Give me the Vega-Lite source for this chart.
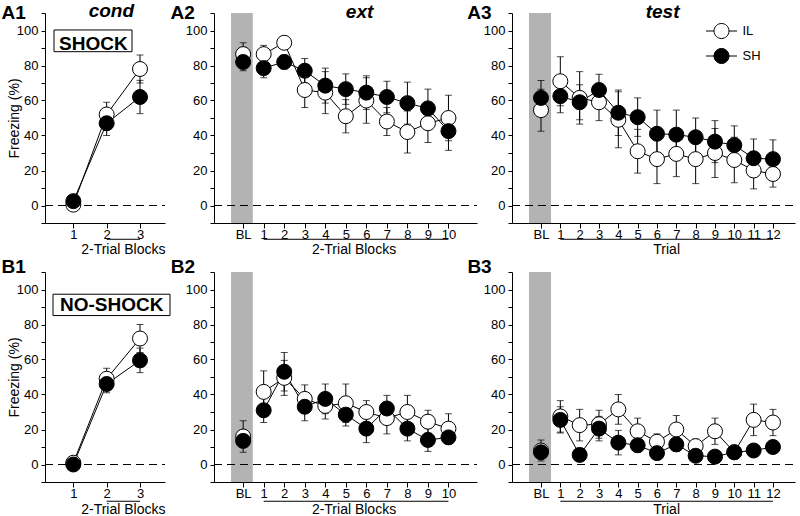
{
  "$schema": "https://vega.github.io/schema/vega-lite/v6.json",
  "background": "white",
  "padding": {"left": 1, "top": 2, "right": 0, "bottom": 0},
  "config": {
    "view": {"stroke": null},
    "font": "Liberation Sans",
    "axis": {"domainColor": "black", "domainWidth": 1, "tickColor": "black", "labelColor": "black", "titleColor": "black", "grid": false, "titleFontWeight": "normal", "labelFlush": false, "labelOverlap": false, "labelFontSize": 13},
    "axisX": {"tickSize": 5, "labelPadding": 0.5, "domainColor": "black", "tickColor": "black", "labelColor": "black"},
    "axisY": {"tickSize": 4, "labelPadding": 3, "domainColor": "black", "tickColor": "black", "labelColor": "black"}
  },
  "bounds": "flush",
  "align": "each",
  "columns": 3,
  "spacing": {"row": 49, "column": 35},
  "resolve": {"scale": {"fill": "independent"}, "legend": {"fill": "independent"}},
  "datasets": {
    "A1": [
      {"g": "IL", "x": 1, "m": 0.5, "e": 1}, {"g": "IL", "x": 2, "m": 52, "e": 7}, {"g": "IL", "x": 3, "m": 78, "e": 8},
      {"g": "SH", "x": 1, "m": 2.5, "e": 1.5}, {"g": "SH", "x": 2, "m": 47, "e": 7}, {"g": "SH", "x": 3, "m": 62, "e": 9.5}
    ],
    "A2": [
      {"g": "IL", "x": 0, "m": 86.5, "e": 6.5}, {"g": "IL", "x": 1, "m": 86.5, "e": 5}, {"g": "IL", "x": 2, "m": 93, "e": 3},
      {"g": "IL", "x": 3, "m": 66, "e": 10}, {"g": "IL", "x": 4, "m": 64.5, "e": 12}, {"g": "IL", "x": 5, "m": 51, "e": 9.5},
      {"g": "IL", "x": 6, "m": 60, "e": 13}, {"g": "IL", "x": 7, "m": 48, "e": 8}, {"g": "IL", "x": 8, "m": 42, "e": 12},
      {"g": "IL", "x": 9, "m": 47, "e": 11}, {"g": "IL", "x": 10, "m": 50, "e": 13},
      {"g": "SH", "x": 0, "m": 82, "e": 5}, {"g": "SH", "x": 1, "m": 78.5, "e": 5.5}, {"g": "SH", "x": 2, "m": 82, "e": 4},
      {"g": "SH", "x": 3, "m": 77, "e": 7}, {"g": "SH", "x": 4, "m": 68.5, "e": 10}, {"g": "SH", "x": 5, "m": 66.5, "e": 8.7},
      {"g": "SH", "x": 6, "m": 64.5, "e": 9.6}, {"g": "SH", "x": 7, "m": 62, "e": 9}, {"g": "SH", "x": 8, "m": 58.5, "e": 12},
      {"g": "SH", "x": 9, "m": 55.5, "e": 11}, {"g": "SH", "x": 10, "m": 42.5, "e": 11}
    ],
    "A3": [
      {"g": "IL", "x": 0, "m": 54.5, "e": 12}, {"g": "IL", "x": 1, "m": 71, "e": 14}, {"g": "IL", "x": 2, "m": 61.5, "e": 15},
      {"g": "IL", "x": 3, "m": 59, "e": 10.5}, {"g": "IL", "x": 4, "m": 49, "e": 16}, {"g": "IL", "x": 5, "m": 31, "e": 12.5},
      {"g": "IL", "x": 6, "m": 26.5, "e": 14}, {"g": "IL", "x": 7, "m": 29.5, "e": 13}, {"g": "IL", "x": 8, "m": 26.5, "e": 14},
      {"g": "IL", "x": 9, "m": 30, "e": 14}, {"g": "IL", "x": 10, "m": 26, "e": 13}, {"g": "IL", "x": 11, "m": 20, "e": 10.5},
      {"g": "IL", "x": 12, "m": 18, "e": 7.5},
      {"g": "SH", "x": 0, "m": 61.5, "e": 10}, {"g": "SH", "x": 1, "m": 62.5, "e": 9.5}, {"g": "SH", "x": 2, "m": 59, "e": 10},
      {"g": "SH", "x": 3, "m": 66, "e": 9}, {"g": "SH", "x": 4, "m": 53, "e": 13}, {"g": "SH", "x": 5, "m": 50.5, "e": 11},
      {"g": "SH", "x": 6, "m": 41, "e": 13.5}, {"g": "SH", "x": 7, "m": 40.5, "e": 14}, {"g": "SH", "x": 8, "m": 39, "e": 11},
      {"g": "SH", "x": 9, "m": 36.5, "e": 12}, {"g": "SH", "x": 10, "m": 34.5, "e": 11}, {"g": "SH", "x": 11, "m": 27, "e": 11},
      {"g": "SH", "x": 12, "m": 26.5, "e": 11}
    ],
    "B1": [
      {"g": "IL", "x": 1, "m": 1, "e": 1.5}, {"g": "IL", "x": 2, "m": 49, "e": 6}, {"g": "IL", "x": 3, "m": 72, "e": 8},
      {"g": "SH", "x": 1, "m": 0, "e": 1}, {"g": "SH", "x": 2, "m": 46, "e": 5}, {"g": "SH", "x": 3, "m": 59.5, "e": 7}
    ],
    "B2": [
      {"g": "IL", "x": 0, "m": 16, "e": 9}, {"g": "IL", "x": 1, "m": 41.5, "e": 12}, {"g": "IL", "x": 2, "m": 49.5, "e": 10},
      {"g": "IL", "x": 3, "m": 37.5, "e": 8}, {"g": "IL", "x": 4, "m": 33.5, "e": 7.5}, {"g": "IL", "x": 5, "m": 35, "e": 11},
      {"g": "IL", "x": 6, "m": 30, "e": 6.5}, {"g": "IL", "x": 7, "m": 26.5, "e": 9}, {"g": "IL", "x": 8, "m": 30, "e": 9.5},
      {"g": "IL", "x": 9, "m": 24.5, "e": 6.5}, {"g": "IL", "x": 10, "m": 20.5, "e": 8.5},
      {"g": "SH", "x": 0, "m": 13.5, "e": 3}, {"g": "SH", "x": 1, "m": 31, "e": 7}, {"g": "SH", "x": 2, "m": 53, "e": 11},
      {"g": "SH", "x": 3, "m": 33, "e": 8}, {"g": "SH", "x": 4, "m": 37.5, "e": 8.5}, {"g": "SH", "x": 5, "m": 28.5, "e": 6.5},
      {"g": "SH", "x": 6, "m": 20.5, "e": 8}, {"g": "SH", "x": 7, "m": 32, "e": 7.5}, {"g": "SH", "x": 8, "m": 20.5, "e": 7},
      {"g": "SH", "x": 9, "m": 14, "e": 6.5}, {"g": "SH", "x": 10, "m": 15.5, "e": 3}
    ],
    "B3": [
      {"g": "IL", "x": 0, "m": 8, "e": 6}, {"g": "IL", "x": 1, "m": 27.5, "e": 9}, {"g": "IL", "x": 2, "m": 22.5, "e": 9},
      {"g": "IL", "x": 3, "m": 23, "e": 8}, {"g": "IL", "x": 4, "m": 31.5, "e": 8.5}, {"g": "IL", "x": 5, "m": 19, "e": 7.5},
      {"g": "IL", "x": 6, "m": 13, "e": 4.5}, {"g": "IL", "x": 7, "m": 20, "e": 8}, {"g": "IL", "x": 8, "m": 10.5, "e": 4},
      {"g": "IL", "x": 9, "m": 19, "e": 7.5}, {"g": "IL", "x": 10, "m": 7, "e": 3}, {"g": "IL", "x": 11, "m": 25.5, "e": 9},
      {"g": "IL", "x": 12, "m": 24, "e": 7.5},
      {"g": "SH", "x": 0, "m": 7, "e": 3}, {"g": "SH", "x": 1, "m": 25.5, "e": 7.5}, {"g": "SH", "x": 2, "m": 5.5, "e": 3},
      {"g": "SH", "x": 3, "m": 20.5, "e": 7}, {"g": "SH", "x": 4, "m": 12.5, "e": 7}, {"g": "SH", "x": 5, "m": 11, "e": 4},
      {"g": "SH", "x": 6, "m": 6.5, "e": 3}, {"g": "SH", "x": 7, "m": 11.5, "e": 4}, {"g": "SH", "x": 8, "m": 5, "e": 3},
      {"g": "SH", "x": 9, "m": 4.5, "e": 3}, {"g": "SH", "x": 10, "m": 7, "e": 3}, {"g": "SH", "x": 11, "m": 8, "e": 3},
      {"g": "SH", "x": 12, "m": 10, "e": 3}
    ]
  },
  "concat": [
    {
      "width": 134, "height": 210,
      "data": {"name": "A1"},
      "layer": [
        {"data": {"values": [{}]}, "mark": {"type": "rule", "color": "black", "strokeDash": [8, 5], "strokeWidth": 1},
         "encoding": {
           "x": {"datum": 0.15, "type": "quantitative", "axis": {"values": [1, 2, 3], "labelExpr": "datum.value == 0 ? 'BL' : datum.value", "title": "A1", "titleX": -44, "titleY": -204.7, "titleAlign": "left", "titleBaseline": "alphabetic", "titleFontSize": 19, "titleFontWeight": "bold"}},
           "x2": {"datum": 3.75},
           "y": {"datum": 0, "type": "quantitative", "axis": {"values": [-10, 0, 10, 20, 30, 40, 50, 60, 70, 80, 90, 100, 110], "labelExpr": "(datum.value % 20 === 0 && datum.value >= 0 && datum.value <= 100) ? datum.value : ''", "title": "Freezing (%)", "titleX": -26.5, "titleY": 105, "titleAngle": 270, "titleAlign": "center", "titleBaseline": "alphabetic", "titleFontSize": 14}}}},
        {"data": {"values": [{}]}, "mark": {"type": "rule", "color": "black", "strokeWidth": 1},
         "encoding": {
           "x": {"datum": 2, "type": "quantitative", "axis": {"values": [1, 2, 3], "labelExpr": "datum.value == 0 ? 'BL' : datum.value", "title": "A1", "titleX": -44, "titleY": -204.7, "titleAlign": "left", "titleBaseline": "alphabetic", "titleFontSize": 19, "titleFontWeight": "bold"}},
           "x2": {"datum": 3},
           "y": {"datum": -19.3, "type": "quantitative", "axis": {"values": [-10, 0, 10, 20, 30, 40, 50, 60, 70, 80, 90, 100, 110], "labelExpr": "(datum.value % 20 === 0 && datum.value >= 0 && datum.value <= 100) ? datum.value : ''", "title": "Freezing (%)", "titleX": -26.5, "titleY": 105, "titleAngle": 270, "titleAlign": "center", "titleBaseline": "alphabetic", "titleFontSize": 14}}}},
        {"data": {"values": [{"t": "2-Trial Blocks"}]}, "mark": {"type": "text", "fontSize": 14, "align": "center", "baseline": "alphabetic", "color": "black"},
         "encoding": {
           "text": {"field": "t"},
           "x": {"datum": 2.5, "type": "quantitative", "axis": {"values": [1, 2, 3], "labelExpr": "datum.value == 0 ? 'BL' : datum.value", "title": "A1", "titleX": -44, "titleY": -204.7, "titleAlign": "left", "titleBaseline": "alphabetic", "titleFontSize": 19, "titleFontWeight": "bold"}},
           "y": {"datum": -27.7, "type": "quantitative", "axis": {"values": [-10, 0, 10, 20, 30, 40, 50, 60, 70, 80, 90, 100, 110], "labelExpr": "(datum.value % 20 === 0 && datum.value >= 0 && datum.value <= 100) ? datum.value : ''", "title": "Freezing (%)", "titleX": -26.5, "titleY": 105, "titleAngle": 270, "titleAlign": "center", "titleBaseline": "alphabetic", "titleFontSize": 14}}}},
        {"data": {"values": [{"t": "cond"}]}, "mark": {"type": "text", "fontSize": 19, "fontWeight": "bold", "fontStyle": "italic", "align": "center", "baseline": "alphabetic", "color": "black"},
         "encoding": {
           "text": {"field": "t"},
           "x": {"datum": 2.14, "type": "quantitative", "axis": {"values": [1, 2, 3], "labelExpr": "datum.value == 0 ? 'BL' : datum.value", "title": "A1", "titleX": -44, "titleY": -204.7, "titleAlign": "left", "titleBaseline": "alphabetic", "titleFontSize": 19, "titleFontWeight": "bold"}},
           "y": {"datum": 107.714, "type": "quantitative", "axis": {"values": [-10, 0, 10, 20, 30, 40, 50, 60, 70, 80, 90, 100, 110], "labelExpr": "(datum.value % 20 === 0 && datum.value >= 0 && datum.value <= 100) ? datum.value : ''", "title": "Freezing (%)", "titleX": -26.5, "titleY": 105, "titleAngle": 270, "titleAlign": "center", "titleBaseline": "alphabetic", "titleFontSize": 14}}}},
        {"data": {"values": [{"t": "SHOCK"}]}, "mark": {"type": "rect", "filled": false, "color": "black", "strokeWidth": 1},
         "encoding": {
           "x": {"datum": 0.42, "type": "quantitative", "axis": {"values": [1, 2, 3], "labelExpr": "datum.value == 0 ? 'BL' : datum.value", "title": "A1", "titleX": -44, "titleY": -204.7, "titleAlign": "left", "titleBaseline": "alphabetic", "titleFontSize": 19, "titleFontWeight": "bold"}},
           "x2": {"datum": 2.76},
           "y": {"datum": 100.3, "type": "quantitative", "axis": {"values": [-10, 0, 10, 20, 30, 40, 50, 60, 70, 80, 90, 100, 110], "labelExpr": "(datum.value % 20 === 0 && datum.value >= 0 && datum.value <= 100) ? datum.value : ''", "title": "Freezing (%)", "titleX": -26.5, "titleY": 105, "titleAngle": 270, "titleAlign": "center", "titleBaseline": "alphabetic", "titleFontSize": 14}},
           "y2": {"datum": 87.9}}},
        {"data": {"values": [{"t": "SHOCK"}]}, "mark": {"type": "text", "fontSize": 19, "fontWeight": "bold", "align": "center", "baseline": "middle", "color": "black"},
         "encoding": {
           "text": {"field": "t"},
           "x": {"datum": 1.6, "type": "quantitative", "axis": {"values": [1, 2, 3], "labelExpr": "datum.value == 0 ? 'BL' : datum.value", "title": "A1", "titleX": -44, "titleY": -204.7, "titleAlign": "left", "titleBaseline": "alphabetic", "titleFontSize": 19, "titleFontWeight": "bold"}},
           "y": {"datum": 92.2, "type": "quantitative", "axis": {"values": [-10, 0, 10, 20, 30, 40, 50, 60, 70, 80, 90, 100, 110], "labelExpr": "(datum.value % 20 === 0 && datum.value >= 0 && datum.value <= 100) ? datum.value : ''", "title": "Freezing (%)", "titleX": -26.5, "titleY": 105, "titleAngle": 270, "titleAlign": "center", "titleBaseline": "alphabetic", "titleFontSize": 14}}}},
        {"transform": [{"filter": "datum.x >= 1"}], "mark": {"type": "line", "color": "black", "strokeWidth": 1},
         "encoding": {
           "x": {"field": "x", "type": "quantitative", "scale": {"domain": [0.15, 3.75], "range": [0, 120], "nice": false, "zero": false}, "axis": {"values": [1, 2, 3], "labelExpr": "datum.value == 0 ? 'BL' : datum.value", "title": "A1", "titleX": -44, "titleY": -204.7, "titleAlign": "left", "titleBaseline": "alphabetic", "titleFontSize": 19, "titleFontWeight": "bold"}},
           "y": {"field": "m", "type": "quantitative", "scale": {"domain": [-10, 110], "nice": false, "zero": false}, "axis": {"values": [-10, 0, 10, 20, 30, 40, 50, 60, 70, 80, 90, 100, 110], "labelExpr": "(datum.value % 20 === 0 && datum.value >= 0 && datum.value <= 100) ? datum.value : ''", "title": "Freezing (%)", "titleX": -26.5, "titleY": 105, "titleAngle": 270, "titleAlign": "center", "titleBaseline": "alphabetic", "titleFontSize": 14}},
           "detail": {"field": "g"}}},
        {"mark": {"type": "errorbar", "color": "black", "thickness": 1, "ticks": {"size": 7}},
         "encoding": {
           "x": {"field": "x", "type": "quantitative", "scale": {"domain": [0.15, 3.75], "range": [0, 120], "nice": false, "zero": false}, "axis": {"values": [1, 2, 3], "labelExpr": "datum.value == 0 ? 'BL' : datum.value", "title": "A1", "titleX": -44, "titleY": -204.7, "titleAlign": "left", "titleBaseline": "alphabetic", "titleFontSize": 19, "titleFontWeight": "bold"}},
           "y": {"field": "m", "type": "quantitative", "scale": {"domain": [-10, 110], "nice": false, "zero": false}, "axis": {"values": [-10, 0, 10, 20, 30, 40, 50, 60, 70, 80, 90, 100, 110], "labelExpr": "(datum.value % 20 === 0 && datum.value >= 0 && datum.value <= 100) ? datum.value : ''", "title": "Freezing (%)", "titleX": -26.5, "titleY": 105, "titleAngle": 270, "titleAlign": "center", "titleBaseline": "alphabetic", "titleFontSize": 14}},
           "yError": {"field": "e"}}},
        {"mark": {"type": "point", "shape": "circle", "size": 225, "filled": true, "stroke": "black", "strokeWidth": 1, "opacity": 1},
         "encoding": {
           "x": {"field": "x", "type": "quantitative", "scale": {"domain": [0.15, 3.75], "range": [0, 120], "nice": false, "zero": false}, "axis": {"values": [1, 2, 3], "labelExpr": "datum.value == 0 ? 'BL' : datum.value", "title": "A1", "titleX": -44, "titleY": -204.7, "titleAlign": "left", "titleBaseline": "alphabetic", "titleFontSize": 19, "titleFontWeight": "bold"}},
           "y": {"field": "m", "type": "quantitative", "scale": {"domain": [-10, 110], "nice": false, "zero": false}, "axis": {"values": [-10, 0, 10, 20, 30, 40, 50, 60, 70, 80, 90, 100, 110], "labelExpr": "(datum.value % 20 === 0 && datum.value >= 0 && datum.value <= 100) ? datum.value : ''", "title": "Freezing (%)", "titleX": -26.5, "titleY": 105, "titleAngle": 270, "titleAlign": "center", "titleBaseline": "alphabetic", "titleFontSize": 14}},
           "fill": {"field": "g", "type": "nominal", "scale": {"domain": ["IL", "SH"], "range": ["white", "black"]}, "legend": null}}}
      ]
    },
    {
      "width": 263, "height": 210,
      "data": {"name": "A2"},
      "layer": [
        {"data": {"values": [{}]}, "mark": {"type": "rect", "color": "#b3b3b3"},
         "encoding": {
           "x": {"datum": -0.59, "type": "quantitative", "axis": {"values": [0, 1, 2, 3, 4, 5, 6, 7, 8, 9, 10], "labelExpr": "datum.value == 0 ? 'BL' : datum.value", "title": "A2", "titleX": -44, "titleY": -204.7, "titleAlign": "left", "titleBaseline": "alphabetic", "titleFontSize": 19, "titleFontWeight": "bold"}},
           "x2": {"datum": 0.47},
           "y": {"datum": -10, "type": "quantitative", "axis": {"values": [-10, 0, 10, 20, 30, 40, 50, 60, 70, 80, 90, 100, 110], "labelExpr": "(datum.value % 20 === 0 && datum.value >= 0 && datum.value <= 100) ? datum.value : ''", "title": null}},
           "y2": {"datum": 110}}},
        {"data": {"values": [{}]}, "mark": {"type": "rule", "color": "black", "strokeDash": [8, 5], "strokeWidth": 1},
         "encoding": {
           "x": {"datum": -1.42, "type": "quantitative", "axis": {"values": [0, 1, 2, 3, 4, 5, 6, 7, 8, 9, 10], "labelExpr": "datum.value == 0 ? 'BL' : datum.value", "title": "A2", "titleX": -44, "titleY": -204.7, "titleAlign": "left", "titleBaseline": "alphabetic", "titleFontSize": 19, "titleFontWeight": "bold"}},
           "x2": {"datum": 11.39},
           "y": {"datum": 0, "type": "quantitative", "axis": {"values": [-10, 0, 10, 20, 30, 40, 50, 60, 70, 80, 90, 100, 110], "labelExpr": "(datum.value % 20 === 0 && datum.value >= 0 && datum.value <= 100) ? datum.value : ''", "title": null}}}},
        {"data": {"values": [{}]}, "mark": {"type": "rule", "color": "black", "strokeWidth": 1},
         "encoding": {
           "x": {"datum": 1, "type": "quantitative", "axis": {"values": [0, 1, 2, 3, 4, 5, 6, 7, 8, 9, 10], "labelExpr": "datum.value == 0 ? 'BL' : datum.value", "title": "A2", "titleX": -44, "titleY": -204.7, "titleAlign": "left", "titleBaseline": "alphabetic", "titleFontSize": 19, "titleFontWeight": "bold"}},
           "x2": {"datum": 10},
           "y": {"datum": -19.3, "type": "quantitative", "axis": {"values": [-10, 0, 10, 20, 30, 40, 50, 60, 70, 80, 90, 100, 110], "labelExpr": "(datum.value % 20 === 0 && datum.value >= 0 && datum.value <= 100) ? datum.value : ''", "title": null}}}},
        {"data": {"values": [{"t": "2-Trial Blocks"}]}, "mark": {"type": "text", "fontSize": 14, "align": "center", "baseline": "alphabetic", "color": "black"},
         "encoding": {
           "text": {"field": "t"},
           "x": {"datum": 5.4, "type": "quantitative", "axis": {"values": [0, 1, 2, 3, 4, 5, 6, 7, 8, 9, 10], "labelExpr": "datum.value == 0 ? 'BL' : datum.value", "title": "A2", "titleX": -44, "titleY": -204.7, "titleAlign": "left", "titleBaseline": "alphabetic", "titleFontSize": 19, "titleFontWeight": "bold"}},
           "y": {"datum": -27.7, "type": "quantitative", "axis": {"values": [-10, 0, 10, 20, 30, 40, 50, 60, 70, 80, 90, 100, 110], "labelExpr": "(datum.value % 20 === 0 && datum.value >= 0 && datum.value <= 100) ? datum.value : ''", "title": null}}}},
        {"data": {"values": [{"t": "ext"}]}, "mark": {"type": "text", "fontSize": 19, "fontWeight": "bold", "fontStyle": "italic", "align": "center", "baseline": "alphabetic", "color": "black"},
         "encoding": {
           "text": {"field": "t"},
           "x": {"datum": 5.67, "type": "quantitative", "axis": {"values": [0, 1, 2, 3, 4, 5, 6, 7, 8, 9, 10], "labelExpr": "datum.value == 0 ? 'BL' : datum.value", "title": "A2", "titleX": -44, "titleY": -204.7, "titleAlign": "left", "titleBaseline": "alphabetic", "titleFontSize": 19, "titleFontWeight": "bold"}},
           "y": {"datum": 107, "type": "quantitative", "axis": {"values": [-10, 0, 10, 20, 30, 40, 50, 60, 70, 80, 90, 100, 110], "labelExpr": "(datum.value % 20 === 0 && datum.value >= 0 && datum.value <= 100) ? datum.value : ''", "title": null}}}},
        {"transform": [{"filter": "datum.x >= 1"}], "mark": {"type": "line", "color": "black", "strokeWidth": 1},
         "encoding": {
           "x": {"field": "x", "type": "quantitative", "scale": {"domain": [-1.42, 11.39], "nice": false, "zero": false}, "axis": {"values": [0, 1, 2, 3, 4, 5, 6, 7, 8, 9, 10], "labelExpr": "datum.value == 0 ? 'BL' : datum.value", "title": "A2", "titleX": -44, "titleY": -204.7, "titleAlign": "left", "titleBaseline": "alphabetic", "titleFontSize": 19, "titleFontWeight": "bold"}},
           "y": {"field": "m", "type": "quantitative", "scale": {"domain": [-10, 110], "nice": false, "zero": false}, "axis": {"values": [-10, 0, 10, 20, 30, 40, 50, 60, 70, 80, 90, 100, 110], "labelExpr": "(datum.value % 20 === 0 && datum.value >= 0 && datum.value <= 100) ? datum.value : ''", "title": null}},
           "detail": {"field": "g"}}},
        {"mark": {"type": "errorbar", "color": "black", "thickness": 1, "ticks": {"size": 7}},
         "encoding": {
           "x": {"field": "x", "type": "quantitative", "scale": {"domain": [-1.42, 11.39], "nice": false, "zero": false}, "axis": {"values": [0, 1, 2, 3, 4, 5, 6, 7, 8, 9, 10], "labelExpr": "datum.value == 0 ? 'BL' : datum.value", "title": "A2", "titleX": -44, "titleY": -204.7, "titleAlign": "left", "titleBaseline": "alphabetic", "titleFontSize": 19, "titleFontWeight": "bold"}},
           "y": {"field": "m", "type": "quantitative", "scale": {"domain": [-10, 110], "nice": false, "zero": false}, "axis": {"values": [-10, 0, 10, 20, 30, 40, 50, 60, 70, 80, 90, 100, 110], "labelExpr": "(datum.value % 20 === 0 && datum.value >= 0 && datum.value <= 100) ? datum.value : ''", "title": null}},
           "yError": {"field": "e"}}},
        {"mark": {"type": "point", "shape": "circle", "size": 225, "filled": true, "stroke": "black", "strokeWidth": 1, "opacity": 1},
         "encoding": {
           "x": {"field": "x", "type": "quantitative", "scale": {"domain": [-1.42, 11.39], "nice": false, "zero": false}, "axis": {"values": [0, 1, 2, 3, 4, 5, 6, 7, 8, 9, 10], "labelExpr": "datum.value == 0 ? 'BL' : datum.value", "title": "A2", "titleX": -44, "titleY": -204.7, "titleAlign": "left", "titleBaseline": "alphabetic", "titleFontSize": 19, "titleFontWeight": "bold"}},
           "y": {"field": "m", "type": "quantitative", "scale": {"domain": [-10, 110], "nice": false, "zero": false}, "axis": {"values": [-10, 0, 10, 20, 30, 40, 50, 60, 70, 80, 90, 100, 110], "labelExpr": "(datum.value % 20 === 0 && datum.value >= 0 && datum.value <= 100) ? datum.value : ''", "title": null}},
           "fill": {"field": "g", "type": "nominal", "scale": {"domain": ["IL", "SH"], "range": ["white", "black"]}, "legend": null}}}
      ]
    },
    {
      "width": 283, "height": 210,
      "data": {"name": "A3"},
      "layer": [
        {"data": {"values": [{}]}, "mark": {"type": "rect", "color": "#b3b3b3"},
         "encoding": {
           "x": {"datum": -0.62, "type": "quantitative", "axis": {"values": [0, 1, 2, 3, 4, 5, 6, 7, 8, 9, 10, 11, 12], "labelExpr": "datum.value == 0 ? 'BL' : datum.value", "title": "A3", "titleX": -45.3, "titleY": -204.7, "titleAlign": "left", "titleBaseline": "alphabetic", "titleFontSize": 19, "titleFontWeight": "bold"}},
           "x2": {"datum": 0.52},
           "y": {"datum": -10, "type": "quantitative", "axis": {"values": [-10, 0, 10, 20, 30, 40, 50, 60, 70, 80, 90, 100, 110], "labelExpr": "(datum.value % 20 === 0 && datum.value >= 0 && datum.value <= 100) ? datum.value : ''", "title": null}},
           "y2": {"datum": 110}}},
        {"data": {"values": [{}]}, "mark": {"type": "rule", "color": "black", "strokeDash": [8, 5], "strokeWidth": 1},
         "encoding": {
           "x": {"datum": -1.5, "type": "quantitative", "axis": {"values": [0, 1, 2, 3, 4, 5, 6, 7, 8, 9, 10, 11, 12], "labelExpr": "datum.value == 0 ? 'BL' : datum.value", "title": "A3", "titleX": -45.3, "titleY": -204.7, "titleAlign": "left", "titleBaseline": "alphabetic", "titleFontSize": 19, "titleFontWeight": "bold"}},
           "x2": {"datum": 13.14},
           "y": {"datum": 0, "type": "quantitative", "axis": {"values": [-10, 0, 10, 20, 30, 40, 50, 60, 70, 80, 90, 100, 110], "labelExpr": "(datum.value % 20 === 0 && datum.value >= 0 && datum.value <= 100) ? datum.value : ''", "title": null}}}},
        {"data": {"values": [{}]}, "mark": {"type": "rule", "color": "black", "strokeWidth": 1},
         "encoding": {
           "x": {"datum": 1, "type": "quantitative", "axis": {"values": [0, 1, 2, 3, 4, 5, 6, 7, 8, 9, 10, 11, 12], "labelExpr": "datum.value == 0 ? 'BL' : datum.value", "title": "A3", "titleX": -45.3, "titleY": -204.7, "titleAlign": "left", "titleBaseline": "alphabetic", "titleFontSize": 19, "titleFontWeight": "bold"}},
           "x2": {"datum": 12},
           "y": {"datum": -19.3, "type": "quantitative", "axis": {"values": [-10, 0, 10, 20, 30, 40, 50, 60, 70, 80, 90, 100, 110], "labelExpr": "(datum.value % 20 === 0 && datum.value >= 0 && datum.value <= 100) ? datum.value : ''", "title": null}}}},
        {"data": {"values": [{"t": "Trial"}]}, "mark": {"type": "text", "fontSize": 14, "align": "center", "baseline": "alphabetic", "color": "black"},
         "encoding": {
           "text": {"field": "t"},
           "x": {"datum": 6.5, "type": "quantitative", "axis": {"values": [0, 1, 2, 3, 4, 5, 6, 7, 8, 9, 10, 11, 12], "labelExpr": "datum.value == 0 ? 'BL' : datum.value", "title": "A3", "titleX": -45.3, "titleY": -204.7, "titleAlign": "left", "titleBaseline": "alphabetic", "titleFontSize": 19, "titleFontWeight": "bold"}},
           "y": {"datum": -27.7, "type": "quantitative", "axis": {"values": [-10, 0, 10, 20, 30, 40, 50, 60, 70, 80, 90, 100, 110], "labelExpr": "(datum.value % 20 === 0 && datum.value >= 0 && datum.value <= 100) ? datum.value : ''", "title": null}}}},
        {"data": {"values": [{"t": "test"}]}, "mark": {"type": "text", "fontSize": 19, "fontWeight": "bold", "fontStyle": "italic", "align": "center", "baseline": "alphabetic", "color": "black"},
         "encoding": {
           "text": {"field": "t"},
           "x": {"datum": 6.29, "type": "quantitative", "axis": {"values": [0, 1, 2, 3, 4, 5, 6, 7, 8, 9, 10, 11, 12], "labelExpr": "datum.value == 0 ? 'BL' : datum.value", "title": "A3", "titleX": -45.3, "titleY": -204.7, "titleAlign": "left", "titleBaseline": "alphabetic", "titleFontSize": 19, "titleFontWeight": "bold"}},
           "y": {"datum": 107, "type": "quantitative", "axis": {"values": [-10, 0, 10, 20, 30, 40, 50, 60, 70, 80, 90, 100, 110], "labelExpr": "(datum.value % 20 === 0 && datum.value >= 0 && datum.value <= 100) ? datum.value : ''", "title": null}}}},
        {"transform": [{"filter": "datum.x >= 1"}], "mark": {"type": "line", "color": "black", "strokeWidth": 1},
         "encoding": {
           "x": {"field": "x", "type": "quantitative", "scale": {"domain": [-1.5, 13.14], "nice": false, "zero": false}, "axis": {"values": [0, 1, 2, 3, 4, 5, 6, 7, 8, 9, 10, 11, 12], "labelExpr": "datum.value == 0 ? 'BL' : datum.value", "title": "A3", "titleX": -45.3, "titleY": -204.7, "titleAlign": "left", "titleBaseline": "alphabetic", "titleFontSize": 19, "titleFontWeight": "bold"}},
           "y": {"field": "m", "type": "quantitative", "scale": {"domain": [-10, 110], "nice": false, "zero": false}, "axis": {"values": [-10, 0, 10, 20, 30, 40, 50, 60, 70, 80, 90, 100, 110], "labelExpr": "(datum.value % 20 === 0 && datum.value >= 0 && datum.value <= 100) ? datum.value : ''", "title": null}},
           "detail": {"field": "g"}}},
        {"mark": {"type": "errorbar", "color": "black", "thickness": 1, "ticks": {"size": 7}},
         "encoding": {
           "x": {"field": "x", "type": "quantitative", "scale": {"domain": [-1.5, 13.14], "nice": false, "zero": false}, "axis": {"values": [0, 1, 2, 3, 4, 5, 6, 7, 8, 9, 10, 11, 12], "labelExpr": "datum.value == 0 ? 'BL' : datum.value", "title": "A3", "titleX": -45.3, "titleY": -204.7, "titleAlign": "left", "titleBaseline": "alphabetic", "titleFontSize": 19, "titleFontWeight": "bold"}},
           "y": {"field": "m", "type": "quantitative", "scale": {"domain": [-10, 110], "nice": false, "zero": false}, "axis": {"values": [-10, 0, 10, 20, 30, 40, 50, 60, 70, 80, 90, 100, 110], "labelExpr": "(datum.value % 20 === 0 && datum.value >= 0 && datum.value <= 100) ? datum.value : ''", "title": null}},
           "yError": {"field": "e"}}},
        {"mark": {"type": "point", "shape": "circle", "size": 225, "filled": true, "stroke": "black", "strokeWidth": 1, "opacity": 1},
         "encoding": {
           "x": {"field": "x", "type": "quantitative", "scale": {"domain": [-1.5, 13.14], "nice": false, "zero": false}, "axis": {"values": [0, 1, 2, 3, 4, 5, 6, 7, 8, 9, 10, 11, 12], "labelExpr": "datum.value == 0 ? 'BL' : datum.value", "title": "A3", "titleX": -45.3, "titleY": -204.7, "titleAlign": "left", "titleBaseline": "alphabetic", "titleFontSize": 19, "titleFontWeight": "bold"}},
           "y": {"field": "m", "type": "quantitative", "scale": {"domain": [-10, 110], "nice": false, "zero": false}, "axis": {"values": [-10, 0, 10, 20, 30, 40, 50, 60, 70, 80, 90, 100, 110], "labelExpr": "(datum.value % 20 === 0 && datum.value >= 0 && datum.value <= 100) ? datum.value : ''", "title": null}},
           "fill": {"field": "g", "type": "nominal", "scale": {"domain": ["IL", "SH"], "range": ["white", "black"]},
                    "legend": {"orient": "none", "legendX": 201.5, "legendY": 10, "title": null, "padding": 0, "symbolType": "M-2.07,0L-1,0M1,0L2.07,0M-1,0A1,1,0,1,0,1,0A1,1,0,1,0,-1,0Z", "symbolSize": 225, "symbolStrokeColor": "black", "symbolStrokeWidth": 1, "labelFontSize": 13, "labelOffset": 13, "labelColor": "black", "rowPadding": 5}}}}
      ]
    },
    {
      "width": 134, "height": 210,
      "data": {"name": "B1"},
      "layer": [
        {"data": {"values": [{}]}, "mark": {"type": "rule", "color": "black", "strokeDash": [8, 5], "strokeWidth": 1},
         "encoding": {
           "x": {"datum": 0.15, "type": "quantitative", "axis": {"values": [1, 2, 3], "labelExpr": "datum.value == 0 ? 'BL' : datum.value", "title": "B1", "titleX": -44, "titleY": -209.3, "titleAlign": "left", "titleBaseline": "alphabetic", "titleFontSize": 19, "titleFontWeight": "bold"}},
           "x2": {"datum": 3.75},
           "y": {"datum": 0, "type": "quantitative", "axis": {"values": [-10, 0, 10, 20, 30, 40, 50, 60, 70, 80, 90, 100, 110], "labelExpr": "(datum.value % 20 === 0 && datum.value >= 0 && datum.value <= 100) ? datum.value : ''", "title": "Freezing (%)", "titleX": -26.5, "titleY": 105, "titleAngle": 270, "titleAlign": "center", "titleBaseline": "alphabetic", "titleFontSize": 14}}}},
        {"data": {"values": [{}]}, "mark": {"type": "rule", "color": "black", "strokeWidth": 1},
         "encoding": {
           "x": {"datum": 2, "type": "quantitative", "axis": {"values": [1, 2, 3], "labelExpr": "datum.value == 0 ? 'BL' : datum.value", "title": "B1", "titleX": -44, "titleY": -209.3, "titleAlign": "left", "titleBaseline": "alphabetic", "titleFontSize": 19, "titleFontWeight": "bold"}},
           "x2": {"datum": 3},
           "y": {"datum": -21, "type": "quantitative", "axis": {"values": [-10, 0, 10, 20, 30, 40, 50, 60, 70, 80, 90, 100, 110], "labelExpr": "(datum.value % 20 === 0 && datum.value >= 0 && datum.value <= 100) ? datum.value : ''", "title": "Freezing (%)", "titleX": -26.5, "titleY": 105, "titleAngle": 270, "titleAlign": "center", "titleBaseline": "alphabetic", "titleFontSize": 14}}}},
        {"data": {"values": [{"t": "2-Trial Blocks"}]}, "mark": {"type": "text", "fontSize": 14, "align": "center", "baseline": "alphabetic", "color": "black"},
         "encoding": {
           "text": {"field": "t"},
           "x": {"datum": 2.5, "type": "quantitative", "axis": {"values": [1, 2, 3], "labelExpr": "datum.value == 0 ? 'BL' : datum.value", "title": "B1", "titleX": -44, "titleY": -209.3, "titleAlign": "left", "titleBaseline": "alphabetic", "titleFontSize": 19, "titleFontWeight": "bold"}},
           "y": {"datum": -28.3, "type": "quantitative", "axis": {"values": [-10, 0, 10, 20, 30, 40, 50, 60, 70, 80, 90, 100, 110], "labelExpr": "(datum.value % 20 === 0 && datum.value >= 0 && datum.value <= 100) ? datum.value : ''", "title": "Freezing (%)", "titleX": -26.5, "titleY": 105, "titleAngle": 270, "titleAlign": "center", "titleBaseline": "alphabetic", "titleFontSize": 14}}}},
        {"data": {"values": [{"t": "NO-SHOCK"}]}, "mark": {"type": "rect", "filled": false, "color": "black", "strokeWidth": 1},
         "encoding": {
           "x": {"datum": 0.39, "type": "quantitative", "axis": {"values": [1, 2, 3], "labelExpr": "datum.value == 0 ? 'BL' : datum.value", "title": "B1", "titleX": -44, "titleY": -209.3, "titleAlign": "left", "titleBaseline": "alphabetic", "titleFontSize": 19, "titleFontWeight": "bold"}},
           "x2": {"datum": 3.9},
           "y": {"datum": 97.3, "type": "quantitative", "axis": {"values": [-10, 0, 10, 20, 30, 40, 50, 60, 70, 80, 90, 100, 110], "labelExpr": "(datum.value % 20 === 0 && datum.value >= 0 && datum.value <= 100) ? datum.value : ''", "title": "Freezing (%)", "titleX": -26.5, "titleY": 105, "titleAngle": 270, "titleAlign": "center", "titleBaseline": "alphabetic", "titleFontSize": 14}},
           "y2": {"datum": 85.1}}},
        {"data": {"values": [{"t": "NO-SHOCK"}]}, "mark": {"type": "text", "fontSize": 19, "fontWeight": "bold", "align": "center", "baseline": "middle", "color": "black"},
         "encoding": {
           "text": {"field": "t"},
           "x": {"datum": 2.15, "type": "quantitative", "axis": {"values": [1, 2, 3], "labelExpr": "datum.value == 0 ? 'BL' : datum.value", "title": "B1", "titleX": -44, "titleY": -209.3, "titleAlign": "left", "titleBaseline": "alphabetic", "titleFontSize": 19, "titleFontWeight": "bold"}},
           "y": {"datum": 91, "type": "quantitative", "axis": {"values": [-10, 0, 10, 20, 30, 40, 50, 60, 70, 80, 90, 100, 110], "labelExpr": "(datum.value % 20 === 0 && datum.value >= 0 && datum.value <= 100) ? datum.value : ''", "title": "Freezing (%)", "titleX": -26.5, "titleY": 105, "titleAngle": 270, "titleAlign": "center", "titleBaseline": "alphabetic", "titleFontSize": 14}}}},
        {"transform": [{"filter": "datum.x >= 1"}], "mark": {"type": "line", "color": "black", "strokeWidth": 1},
         "encoding": {
           "x": {"field": "x", "type": "quantitative", "scale": {"domain": [0.15, 3.75], "range": [0, 120], "nice": false, "zero": false}, "axis": {"values": [1, 2, 3], "labelExpr": "datum.value == 0 ? 'BL' : datum.value", "title": "B1", "titleX": -44, "titleY": -209.3, "titleAlign": "left", "titleBaseline": "alphabetic", "titleFontSize": 19, "titleFontWeight": "bold"}},
           "y": {"field": "m", "type": "quantitative", "scale": {"domain": [-10, 110], "nice": false, "zero": false}, "axis": {"values": [-10, 0, 10, 20, 30, 40, 50, 60, 70, 80, 90, 100, 110], "labelExpr": "(datum.value % 20 === 0 && datum.value >= 0 && datum.value <= 100) ? datum.value : ''", "title": "Freezing (%)", "titleX": -26.5, "titleY": 105, "titleAngle": 270, "titleAlign": "center", "titleBaseline": "alphabetic", "titleFontSize": 14}},
           "detail": {"field": "g"}}},
        {"mark": {"type": "errorbar", "color": "black", "thickness": 1, "ticks": {"size": 7}},
         "encoding": {
           "x": {"field": "x", "type": "quantitative", "scale": {"domain": [0.15, 3.75], "range": [0, 120], "nice": false, "zero": false}, "axis": {"values": [1, 2, 3], "labelExpr": "datum.value == 0 ? 'BL' : datum.value", "title": "B1", "titleX": -44, "titleY": -209.3, "titleAlign": "left", "titleBaseline": "alphabetic", "titleFontSize": 19, "titleFontWeight": "bold"}},
           "y": {"field": "m", "type": "quantitative", "scale": {"domain": [-10, 110], "nice": false, "zero": false}, "axis": {"values": [-10, 0, 10, 20, 30, 40, 50, 60, 70, 80, 90, 100, 110], "labelExpr": "(datum.value % 20 === 0 && datum.value >= 0 && datum.value <= 100) ? datum.value : ''", "title": "Freezing (%)", "titleX": -26.5, "titleY": 105, "titleAngle": 270, "titleAlign": "center", "titleBaseline": "alphabetic", "titleFontSize": 14}},
           "yError": {"field": "e"}}},
        {"mark": {"type": "point", "shape": "circle", "size": 225, "filled": true, "stroke": "black", "strokeWidth": 1, "opacity": 1},
         "encoding": {
           "x": {"field": "x", "type": "quantitative", "scale": {"domain": [0.15, 3.75], "range": [0, 120], "nice": false, "zero": false}, "axis": {"values": [1, 2, 3], "labelExpr": "datum.value == 0 ? 'BL' : datum.value", "title": "B1", "titleX": -44, "titleY": -209.3, "titleAlign": "left", "titleBaseline": "alphabetic", "titleFontSize": 19, "titleFontWeight": "bold"}},
           "y": {"field": "m", "type": "quantitative", "scale": {"domain": [-10, 110], "nice": false, "zero": false}, "axis": {"values": [-10, 0, 10, 20, 30, 40, 50, 60, 70, 80, 90, 100, 110], "labelExpr": "(datum.value % 20 === 0 && datum.value >= 0 && datum.value <= 100) ? datum.value : ''", "title": "Freezing (%)", "titleX": -26.5, "titleY": 105, "titleAngle": 270, "titleAlign": "center", "titleBaseline": "alphabetic", "titleFontSize": 14}},
           "fill": {"field": "g", "type": "nominal", "scale": {"domain": ["IL", "SH"], "range": ["white", "black"]}, "legend": null}}}
      ]
    },
    {
      "width": 263, "height": 210,
      "data": {"name": "B2"},
      "layer": [
        {"data": {"values": [{}]}, "mark": {"type": "rect", "color": "#b3b3b3"},
         "encoding": {
           "x": {"datum": -0.59, "type": "quantitative", "axis": {"values": [0, 1, 2, 3, 4, 5, 6, 7, 8, 9, 10], "labelExpr": "datum.value == 0 ? 'BL' : datum.value", "title": "B2", "titleX": -43.7, "titleY": -209.3, "titleAlign": "left", "titleBaseline": "alphabetic", "titleFontSize": 19, "titleFontWeight": "bold"}},
           "x2": {"datum": 0.47},
           "y": {"datum": -10, "type": "quantitative", "axis": {"values": [-10, 0, 10, 20, 30, 40, 50, 60, 70, 80, 90, 100, 110], "labelExpr": "(datum.value % 20 === 0 && datum.value >= 0 && datum.value <= 100) ? datum.value : ''", "title": null}},
           "y2": {"datum": 110}}},
        {"data": {"values": [{}]}, "mark": {"type": "rule", "color": "black", "strokeDash": [8, 5], "strokeWidth": 1},
         "encoding": {
           "x": {"datum": -1.42, "type": "quantitative", "axis": {"values": [0, 1, 2, 3, 4, 5, 6, 7, 8, 9, 10], "labelExpr": "datum.value == 0 ? 'BL' : datum.value", "title": "B2", "titleX": -43.7, "titleY": -209.3, "titleAlign": "left", "titleBaseline": "alphabetic", "titleFontSize": 19, "titleFontWeight": "bold"}},
           "x2": {"datum": 11.39},
           "y": {"datum": 0, "type": "quantitative", "axis": {"values": [-10, 0, 10, 20, 30, 40, 50, 60, 70, 80, 90, 100, 110], "labelExpr": "(datum.value % 20 === 0 && datum.value >= 0 && datum.value <= 100) ? datum.value : ''", "title": null}}}},
        {"data": {"values": [{}]}, "mark": {"type": "rule", "color": "black", "strokeWidth": 1},
         "encoding": {
           "x": {"datum": 1, "type": "quantitative", "axis": {"values": [0, 1, 2, 3, 4, 5, 6, 7, 8, 9, 10], "labelExpr": "datum.value == 0 ? 'BL' : datum.value", "title": "B2", "titleX": -43.7, "titleY": -209.3, "titleAlign": "left", "titleBaseline": "alphabetic", "titleFontSize": 19, "titleFontWeight": "bold"}},
           "x2": {"datum": 10},
           "y": {"datum": -21, "type": "quantitative", "axis": {"values": [-10, 0, 10, 20, 30, 40, 50, 60, 70, 80, 90, 100, 110], "labelExpr": "(datum.value % 20 === 0 && datum.value >= 0 && datum.value <= 100) ? datum.value : ''", "title": null}}}},
        {"data": {"values": [{"t": "2-Trial Blocks"}]}, "mark": {"type": "text", "fontSize": 14, "align": "center", "baseline": "alphabetic", "color": "black"},
         "encoding": {
           "text": {"field": "t"},
           "x": {"datum": 5.4, "type": "quantitative", "axis": {"values": [0, 1, 2, 3, 4, 5, 6, 7, 8, 9, 10], "labelExpr": "datum.value == 0 ? 'BL' : datum.value", "title": "B2", "titleX": -43.7, "titleY": -209.3, "titleAlign": "left", "titleBaseline": "alphabetic", "titleFontSize": 19, "titleFontWeight": "bold"}},
           "y": {"datum": -28.3, "type": "quantitative", "axis": {"values": [-10, 0, 10, 20, 30, 40, 50, 60, 70, 80, 90, 100, 110], "labelExpr": "(datum.value % 20 === 0 && datum.value >= 0 && datum.value <= 100) ? datum.value : ''", "title": null}}}},
        {"transform": [{"filter": "datum.x >= 1"}], "mark": {"type": "line", "color": "black", "strokeWidth": 1},
         "encoding": {
           "x": {"field": "x", "type": "quantitative", "scale": {"domain": [-1.42, 11.39], "nice": false, "zero": false}, "axis": {"values": [0, 1, 2, 3, 4, 5, 6, 7, 8, 9, 10], "labelExpr": "datum.value == 0 ? 'BL' : datum.value", "title": "B2", "titleX": -43.7, "titleY": -209.3, "titleAlign": "left", "titleBaseline": "alphabetic", "titleFontSize": 19, "titleFontWeight": "bold"}},
           "y": {"field": "m", "type": "quantitative", "scale": {"domain": [-10, 110], "nice": false, "zero": false}, "axis": {"values": [-10, 0, 10, 20, 30, 40, 50, 60, 70, 80, 90, 100, 110], "labelExpr": "(datum.value % 20 === 0 && datum.value >= 0 && datum.value <= 100) ? datum.value : ''", "title": null}},
           "detail": {"field": "g"}}},
        {"mark": {"type": "errorbar", "color": "black", "thickness": 1, "ticks": {"size": 7}},
         "encoding": {
           "x": {"field": "x", "type": "quantitative", "scale": {"domain": [-1.42, 11.39], "nice": false, "zero": false}, "axis": {"values": [0, 1, 2, 3, 4, 5, 6, 7, 8, 9, 10], "labelExpr": "datum.value == 0 ? 'BL' : datum.value", "title": "B2", "titleX": -43.7, "titleY": -209.3, "titleAlign": "left", "titleBaseline": "alphabetic", "titleFontSize": 19, "titleFontWeight": "bold"}},
           "y": {"field": "m", "type": "quantitative", "scale": {"domain": [-10, 110], "nice": false, "zero": false}, "axis": {"values": [-10, 0, 10, 20, 30, 40, 50, 60, 70, 80, 90, 100, 110], "labelExpr": "(datum.value % 20 === 0 && datum.value >= 0 && datum.value <= 100) ? datum.value : ''", "title": null}},
           "yError": {"field": "e"}}},
        {"mark": {"type": "point", "shape": "circle", "size": 225, "filled": true, "stroke": "black", "strokeWidth": 1, "opacity": 1},
         "encoding": {
           "x": {"field": "x", "type": "quantitative", "scale": {"domain": [-1.42, 11.39], "nice": false, "zero": false}, "axis": {"values": [0, 1, 2, 3, 4, 5, 6, 7, 8, 9, 10], "labelExpr": "datum.value == 0 ? 'BL' : datum.value", "title": "B2", "titleX": -43.7, "titleY": -209.3, "titleAlign": "left", "titleBaseline": "alphabetic", "titleFontSize": 19, "titleFontWeight": "bold"}},
           "y": {"field": "m", "type": "quantitative", "scale": {"domain": [-10, 110], "nice": false, "zero": false}, "axis": {"values": [-10, 0, 10, 20, 30, 40, 50, 60, 70, 80, 90, 100, 110], "labelExpr": "(datum.value % 20 === 0 && datum.value >= 0 && datum.value <= 100) ? datum.value : ''", "title": null}},
           "fill": {"field": "g", "type": "nominal", "scale": {"domain": ["IL", "SH"], "range": ["white", "black"]}, "legend": null}}}
      ]
    },
    {
      "width": 283, "height": 210,
      "data": {"name": "B3"},
      "layer": [
        {"data": {"values": [{}]}, "mark": {"type": "rect", "color": "#b3b3b3"},
         "encoding": {
           "x": {"datum": -0.62, "type": "quantitative", "axis": {"values": [0, 1, 2, 3, 4, 5, 6, 7, 8, 9, 10, 11, 12], "labelExpr": "datum.value == 0 ? 'BL' : datum.value", "title": "B3", "titleX": -45.1, "titleY": -209.3, "titleAlign": "left", "titleBaseline": "alphabetic", "titleFontSize": 19, "titleFontWeight": "bold"}},
           "x2": {"datum": 0.52},
           "y": {"datum": -10, "type": "quantitative", "axis": {"values": [-10, 0, 10, 20, 30, 40, 50, 60, 70, 80, 90, 100, 110], "labelExpr": "(datum.value % 20 === 0 && datum.value >= 0 && datum.value <= 100) ? datum.value : ''", "title": null}},
           "y2": {"datum": 110}}},
        {"data": {"values": [{}]}, "mark": {"type": "rule", "color": "black", "strokeDash": [8, 5], "strokeWidth": 1},
         "encoding": {
           "x": {"datum": -1.5, "type": "quantitative", "axis": {"values": [0, 1, 2, 3, 4, 5, 6, 7, 8, 9, 10, 11, 12], "labelExpr": "datum.value == 0 ? 'BL' : datum.value", "title": "B3", "titleX": -45.1, "titleY": -209.3, "titleAlign": "left", "titleBaseline": "alphabetic", "titleFontSize": 19, "titleFontWeight": "bold"}},
           "x2": {"datum": 13.14},
           "y": {"datum": 0, "type": "quantitative", "axis": {"values": [-10, 0, 10, 20, 30, 40, 50, 60, 70, 80, 90, 100, 110], "labelExpr": "(datum.value % 20 === 0 && datum.value >= 0 && datum.value <= 100) ? datum.value : ''", "title": null}}}},
        {"data": {"values": [{}]}, "mark": {"type": "rule", "color": "black", "strokeWidth": 1},
         "encoding": {
           "x": {"datum": 1, "type": "quantitative", "axis": {"values": [0, 1, 2, 3, 4, 5, 6, 7, 8, 9, 10, 11, 12], "labelExpr": "datum.value == 0 ? 'BL' : datum.value", "title": "B3", "titleX": -45.1, "titleY": -209.3, "titleAlign": "left", "titleBaseline": "alphabetic", "titleFontSize": 19, "titleFontWeight": "bold"}},
           "x2": {"datum": 12},
           "y": {"datum": -21, "type": "quantitative", "axis": {"values": [-10, 0, 10, 20, 30, 40, 50, 60, 70, 80, 90, 100, 110], "labelExpr": "(datum.value % 20 === 0 && datum.value >= 0 && datum.value <= 100) ? datum.value : ''", "title": null}}}},
        {"data": {"values": [{"t": "Trial"}]}, "mark": {"type": "text", "fontSize": 14, "align": "center", "baseline": "alphabetic", "color": "black"},
         "encoding": {
           "text": {"field": "t"},
           "x": {"datum": 6.5, "type": "quantitative", "axis": {"values": [0, 1, 2, 3, 4, 5, 6, 7, 8, 9, 10, 11, 12], "labelExpr": "datum.value == 0 ? 'BL' : datum.value", "title": "B3", "titleX": -45.1, "titleY": -209.3, "titleAlign": "left", "titleBaseline": "alphabetic", "titleFontSize": 19, "titleFontWeight": "bold"}},
           "y": {"datum": -28.3, "type": "quantitative", "axis": {"values": [-10, 0, 10, 20, 30, 40, 50, 60, 70, 80, 90, 100, 110], "labelExpr": "(datum.value % 20 === 0 && datum.value >= 0 && datum.value <= 100) ? datum.value : ''", "title": null}}}},
        {"transform": [{"filter": "datum.x >= 1"}], "mark": {"type": "line", "color": "black", "strokeWidth": 1},
         "encoding": {
           "x": {"field": "x", "type": "quantitative", "scale": {"domain": [-1.5, 13.14], "nice": false, "zero": false}, "axis": {"values": [0, 1, 2, 3, 4, 5, 6, 7, 8, 9, 10, 11, 12], "labelExpr": "datum.value == 0 ? 'BL' : datum.value", "title": "B3", "titleX": -45.1, "titleY": -209.3, "titleAlign": "left", "titleBaseline": "alphabetic", "titleFontSize": 19, "titleFontWeight": "bold"}},
           "y": {"field": "m", "type": "quantitative", "scale": {"domain": [-10, 110], "nice": false, "zero": false}, "axis": {"values": [-10, 0, 10, 20, 30, 40, 50, 60, 70, 80, 90, 100, 110], "labelExpr": "(datum.value % 20 === 0 && datum.value >= 0 && datum.value <= 100) ? datum.value : ''", "title": null}},
           "detail": {"field": "g"}}},
        {"mark": {"type": "errorbar", "color": "black", "thickness": 1, "ticks": {"size": 7}},
         "encoding": {
           "x": {"field": "x", "type": "quantitative", "scale": {"domain": [-1.5, 13.14], "nice": false, "zero": false}, "axis": {"values": [0, 1, 2, 3, 4, 5, 6, 7, 8, 9, 10, 11, 12], "labelExpr": "datum.value == 0 ? 'BL' : datum.value", "title": "B3", "titleX": -45.1, "titleY": -209.3, "titleAlign": "left", "titleBaseline": "alphabetic", "titleFontSize": 19, "titleFontWeight": "bold"}},
           "y": {"field": "m", "type": "quantitative", "scale": {"domain": [-10, 110], "nice": false, "zero": false}, "axis": {"values": [-10, 0, 10, 20, 30, 40, 50, 60, 70, 80, 90, 100, 110], "labelExpr": "(datum.value % 20 === 0 && datum.value >= 0 && datum.value <= 100) ? datum.value : ''", "title": null}},
           "yError": {"field": "e"}}},
        {"mark": {"type": "point", "shape": "circle", "size": 225, "filled": true, "stroke": "black", "strokeWidth": 1, "opacity": 1},
         "encoding": {
           "x": {"field": "x", "type": "quantitative", "scale": {"domain": [-1.5, 13.14], "nice": false, "zero": false}, "axis": {"values": [0, 1, 2, 3, 4, 5, 6, 7, 8, 9, 10, 11, 12], "labelExpr": "datum.value == 0 ? 'BL' : datum.value", "title": "B3", "titleX": -45.1, "titleY": -209.3, "titleAlign": "left", "titleBaseline": "alphabetic", "titleFontSize": 19, "titleFontWeight": "bold"}},
           "y": {"field": "m", "type": "quantitative", "scale": {"domain": [-10, 110], "nice": false, "zero": false}, "axis": {"values": [-10, 0, 10, 20, 30, 40, 50, 60, 70, 80, 90, 100, 110], "labelExpr": "(datum.value % 20 === 0 && datum.value >= 0 && datum.value <= 100) ? datum.value : ''", "title": null}},
           "fill": {"field": "g", "type": "nominal", "scale": {"domain": ["IL", "SH"], "range": ["white", "black"]}, "legend": null}}}
      ]
    }
  ]
}
